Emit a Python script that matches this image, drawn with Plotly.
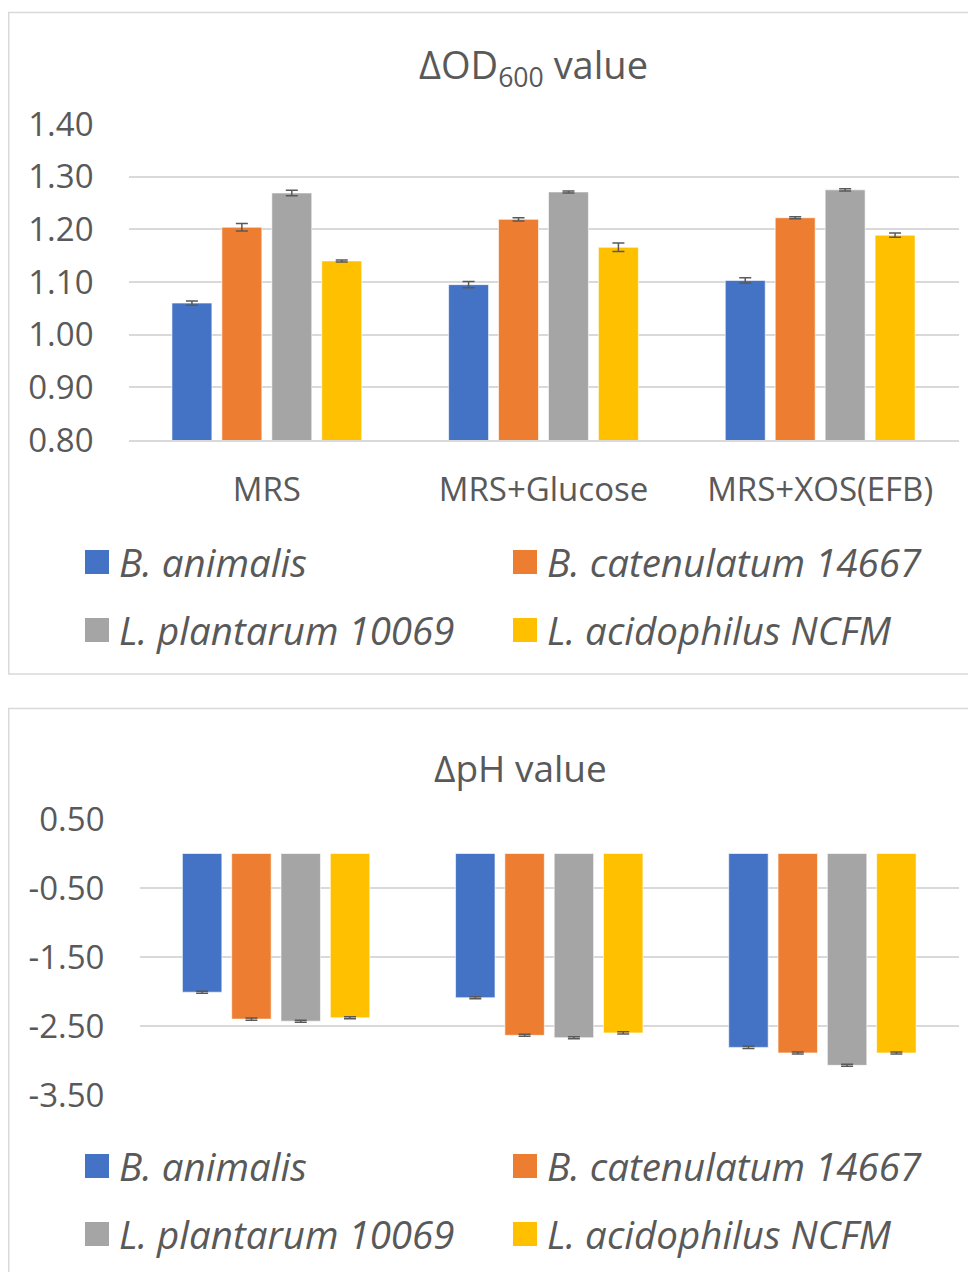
import plotly.graph_objects as go

# ---------------- data ----------------
categories = ["MRS", "MRS+Glucose", "MRS+XOS(EFB)"]
strains = ["B. animalis", "B. catenulatum 14667", "L. plantarum 10069", "L. acidophilus NCFM"]
colors = ["#4472C4", "#ED7D31", "#A5A5A5", "#FFC000"]

od_animalis = [1.060, 1.095, 1.103]
od_catenulatum = [1.204, 1.219, 1.222]
od_plantarum = [1.269, 1.271, 1.275]
od_acidophilus = [1.140, 1.166, 1.189]

od_err_animalis = [0.004, 0.006, 0.005]
od_err_catenulatum = [0.007, 0.003, 0.002]
od_err_plantarum = [0.005, 0.002, 0.002]
od_err_acidophilus = [0.002, 0.008, 0.004]

ph_animalis = [-2.01, -2.09, -2.81]
ph_catenulatum = [-2.40, -2.635, -2.89]
ph_plantarum = [-2.43, -2.67, -3.07]
ph_acidophilus = [-2.38, -2.60, -2.89]

ph_err_animalis = [0.015, 0.015, 0.015]
ph_err_catenulatum = [0.015, 0.015, 0.015]
ph_err_plantarum = [0.015, 0.015, 0.015]
ph_err_acidophilus = [0.015, 0.015, 0.015]

od_tick_vals = [0.8, 0.9, 1.0, 1.1, 1.2, 1.3, 1.4]
od_tick_text = ["0.80", "0.90", "1.00", "1.10", "1.20", "1.30", "1.40"]
ph_tick_vals = [0.5, -0.5, -1.5, -2.5, -3.5]
ph_tick_text = ["0.50", "-0.50", "-1.50", "-2.50", "-3.50"]

od_title = "ΔOD<sub>600</sub> value"
ph_title = "ΔpH value"

od_series = [od_animalis, od_catenulatum, od_plantarum, od_acidophilus]
od_errs = [od_err_animalis, od_err_catenulatum, od_err_plantarum, od_err_acidophilus]
ph_series = [ph_animalis, ph_catenulatum, ph_plantarum, ph_acidophilus]
ph_errs = [ph_err_animalis, ph_err_catenulatum, ph_err_plantarum, ph_err_acidophilus]

# ---------------- figure ----------------
# page body has an 8px margin: the figure starts at (8, 8) in the window
OFF = 8
W, H = 976 - OFF, 1272 - OFF
FONT = "Open Sans, Noto Sans, sans-serif"
TXT = "#595959"
GRID = "#D9D9D9"


def px(x):
    return (x - OFF) / W


def py(y):
    return 1 - (y - OFF) / H


fig = go.Figure()

for name, vals, errs, col in zip(strains, od_series, od_errs, colors):
    fig.add_trace(go.Bar(
        x=categories, y=vals, name=name, xaxis="x", yaxis="y",
        marker=dict(color=col, line=dict(color="rgba(255,255,255,0.6)", width=1)),
        error_y=dict(type="data", array=errs, visible=True, color="#595959",
                     thickness=1.5, width=6),
        showlegend=False,
    ))

for name, vals, errs, col in zip(strains, ph_series, ph_errs, colors):
    fig.add_trace(go.Bar(
        x=categories, y=vals, name=name, xaxis="x2", yaxis="y2",
        marker=dict(color=col, line=dict(color="rgba(255,255,255,0.6)", width=1)),
        error_y=dict(type="data", array=errs, visible=True, color="#595959",
                     thickness=1.5, width=6),
        showlegend=False,
    ))

fig.update_layout(
    template="none",
    width=W, height=H,
    margin=dict(l=0, r=0, t=0, b=0, pad=0, autoexpand=False),
    paper_bgcolor="white", plot_bgcolor="white",
    font=dict(family=FONT, color=TXT, size=33),
    barmode="group", bargap=0.278, bargroupgap=0.2,
    showlegend=False,
    xaxis=dict(domain=[px(128.5), px(958.5)], anchor="y", showgrid=False, automargin=False,
               ticks="", showline=True, linecolor=GRID, linewidth=1.5,
               tickfont=dict(size=33, color=TXT), ticklabelstandoff=20,
               range=[-0.5, 2.5]),
    yaxis=dict(domain=[py(440), py(124)], anchor="x", range=[0.8, 1.4], automargin=False,
               tickvals=od_tick_vals, ticktext=od_tick_text,
               showgrid=True, gridcolor=GRID, gridwidth=1.5, zeroline=False, showline=False,
               ticks="", tickfont=dict(size=33, color=TXT), ticklabelstandoff=34),
    xaxis2=dict(domain=[px(139.5), px(959)], anchor="y2", showgrid=False, automargin=False,
                showticklabels=False, ticks="", showline=False, zeroline=False,
                range=[-0.5, 2.5]),
    yaxis2=dict(domain=[py(1095), py(819)], anchor="x2", range=[-3.5, 0.5], automargin=False,
                tickvals=ph_tick_vals, ticktext=ph_tick_text,
                showgrid=True, gridcolor=GRID, gridwidth=1.5, zeroline=False, showline=False,
                ticks="", tickfont=dict(size=33, color=TXT), ticklabelstandoff=34),
)

shapes = []
annotations = []

# chart frames
shapes.append(dict(type="rect", xref="paper", yref="paper",
                   x0=px(8.75), x1=px(990), y0=py(674), y1=py(12.5),
                   line=dict(color=GRID, width=1.5), fillcolor="rgba(0,0,0,0)", layer="below"))
shapes.append(dict(type="rect", xref="paper", yref="paper",
                   x0=px(8.75), x1=px(990), y0=py(1290), y1=py(708.5),
                   line=dict(color=GRID, width=1.5), fillcolor="rgba(0,0,0,0)", layer="below"))

# titles
annotations.append(dict(text=od_title, x=px(533), y=py(66), xref="paper", yref="paper",
                        xanchor="center", yanchor="middle", showarrow=False,
                        font=dict(size=38, color=TXT, family=FONT)))
annotations.append(dict(text=ph_title, x=px(520), y=py(767), xref="paper", yref="paper",
                        xanchor="center", yanchor="middle", showarrow=False,
                        font=dict(size=37, color=TXT, family=FONT)))

# legends (two per chart, 2x2 grid)
legend_cols = [85, 513]
legend_rows_top = [562, 630]
legend_rows_bot = [1166, 1234]
for rows in (legend_rows_top, legend_rows_bot):
    for i, (name, col) in enumerate(zip(strains, colors)):
        lx = legend_cols[i % 2]
        ly = rows[i // 2]
        shapes.append(dict(type="rect", xref="paper", yref="paper",
                           x0=px(lx), x1=px(lx + 24), y0=py(ly + 12), y1=py(ly - 12),
                           line=dict(width=0), fillcolor=col))
        annotations.append(dict(text="<i>" + name + "</i>", x=px(lx + 32), y=py(ly),
                                xref="paper", yref="paper", xanchor="left", yanchor="middle",
                                showarrow=False, font=dict(size=38.5, color=TXT, family=FONT)))

fig.update_layout(shapes=shapes, annotations=annotations)

fig.write_html("out.html")
